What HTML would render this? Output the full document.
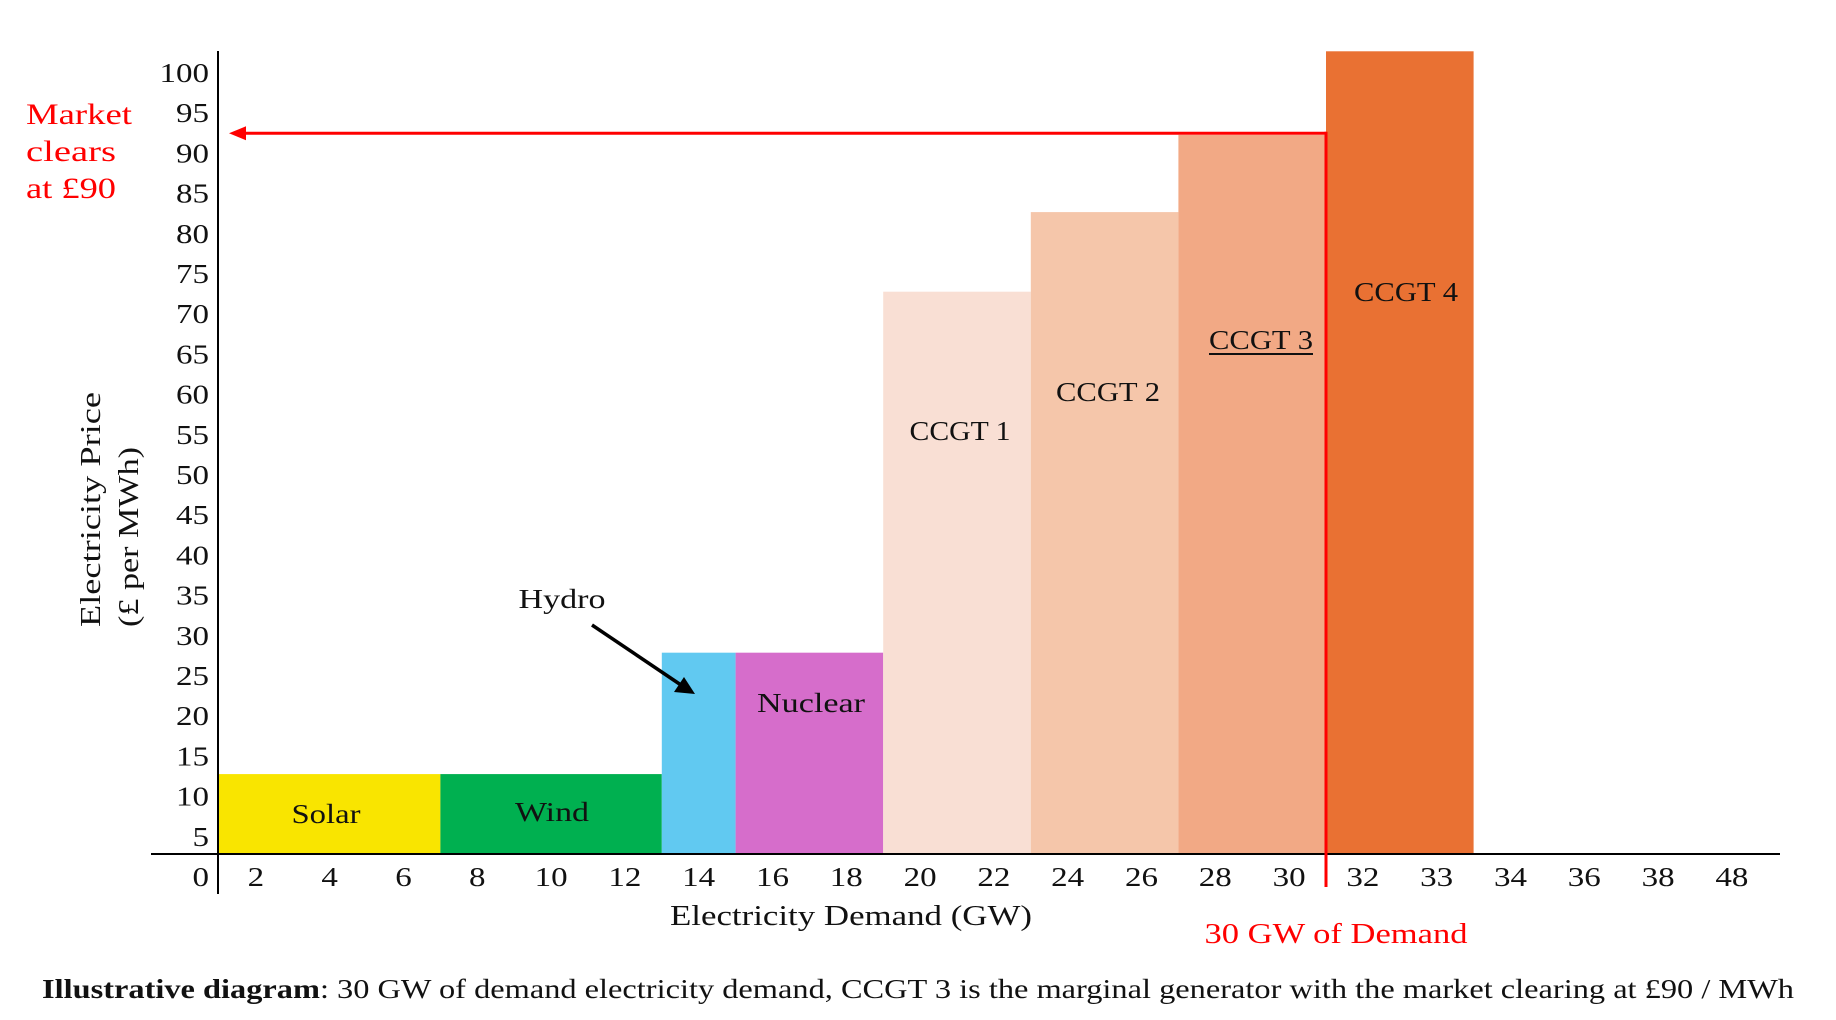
<!DOCTYPE html>
<html><head><meta charset="utf-8"><style>
html,body{margin:0;padding:0;background:#fff;}
svg{display:block;font-family:"Liberation Serif",serif;}
</style></head><body>
<svg id="chart" width="1836" height="1020" viewBox="0 0 1836 1020" xmlns="http://www.w3.org/2000/svg">
<g id="bars"></g>
<g id="axes"></g>
<g id="labels"></g>
</svg>
<script>
// data
const barNames = ["Solar","Wind","Hydro","Nuclear","CCGT 1","CCGT 2","CCGT 3","CCGT 4"];
const barStart = [1,7,13,15,19,23,27,31];
const barEnd   = [7,13,15,19,23,27,31,35];
const barPrice = [12.8,12.8,27.9,27.9,72.8,82.7,92.3,102.7];
const barColors = ["#f9e500","#00b050","#61c9f1","#d66dcb","#f9dfd4","#f5c6aa","#f2a985","#e97133"];
const yTicks = [0,5,10,15,20,25,30,35,40,45,50,55,60,65,70,75,80,85,90,95,100];
const xTickLabels = ["2","4","6","8","10","12","14","16","18","20","22","24","26","28","30","32","33","34","36","38","48"];
const xTickPos = [2,4,6,8,10,12,14,16,18,20,22,24,26,28,30,32,34,36,38,40,42];
const clearingPrice = 92.5;
const demandPos = 31;

const NS="http://www.w3.org/2000/svg";
const xS = p => 182.1 + 36.9*p;
const yS = v => 877 - 8.04*v;
const AXY = 854, AXX = 218;
function mk(tag, attrs, parent, text){
  const e=document.createElementNS(NS,tag);
  for(const k in attrs) e.setAttribute(k,attrs[k]);
  if(text!==undefined) e.textContent=text;
  parent.appendChild(e); return e;
}
const gb=document.getElementById('bars'), ga=document.getElementById('axes'), gl=document.getElementById('labels');

barNames.forEach((n,i)=>{
  const r=mk('rect',{x:xS(barStart[i]),y:yS(barPrice[i]),width:xS(barEnd[i])-xS(barStart[i]),height:AXY-yS(barPrice[i]),fill:barColors[i]},gb);
  
  
});

// bar labels: [cx, baseline, width]
const labelPos = {"Solar":[326,823,69],"Wind":[552,821,74],"Nuclear":[811,712,108],"CCGT 1":[960,440,101],"CCGT 2":[1108,401,104],"CCGT 3":[1261,349,104],"CCGT 4":[1406,301,104]};
for(const n in labelPos){
  const t=mk('text',{x:labelPos[n][0],y:labelPos[n][1],'text-anchor':'middle','font-size':27,fill:'#111',textLength:labelPos[n][2],lengthAdjust:'spacingAndGlyphs'},gl,n);
  
  
  if(n==="CCGT 3") mk('line',{x1:1209,x2:1313,y1:354,y2:354,stroke:'#111','stroke-width':2},gl);
}
const hl=mk('text',{x:562,y:608,'text-anchor':'middle','font-size':27,fill:'#111',textLength:87,lengthAdjust:'spacingAndGlyphs'},gl,'Hydro');


mk('line',{x1:592,y1:625,x2:681,y2:685,stroke:'#000','stroke-width':3.5},gl);
mk('polygon',{points:"695,694 674,692 684,677",fill:'#000'},gl);

// axes
mk('line',{x1:AXX,y1:51,x2:AXX,y2:894,stroke:'#000','stroke-width':2},ga);
mk('line',{x1:151,y1:AXY,x2:1780,y2:AXY,stroke:'#000','stroke-width':2},ga);
yTicks.forEach(v=>{
  const s=String(v);
  const t=mk('text',{x:209,y:yS(v)+9,'text-anchor':'end','font-size':27,fill:'#111',textLength:16.5*s.length,lengthAdjust:'spacingAndGlyphs'},ga,s);
  
  
});
xTickLabels.forEach((l,i)=>{
  const t=mk('text',{x:xS(xTickPos[i]),y:886,'text-anchor':'middle','font-size':27,fill:'#111',textLength:16.5*l.length,lengthAdjust:'spacingAndGlyphs'},ga,l);
  
  
});

// clearing lines
const cy=yS(clearingPrice);
mk('line',{x1:xS(demandPos),y1:cy,x2:242,y2:cy,stroke:'#f00','stroke-width':3},ga);
mk('polygon',{points:`229,${cy} 246,${cy-7} 246,${cy+7}`,fill:'#f00'},ga);
mk('line',{x1:xS(demandPos),y1:cy-1.5,x2:xS(demandPos),y2:887,stroke:'#f00','stroke-width':3},ga);

// titles
const yt=mk('text',{transform:'translate(100,627) rotate(-90)','text-anchor':'start','font-size':28,fill:'#111',textLength:235,lengthAdjust:'spacingAndGlyphs'},gl,'Electricity Price');


const yt2=mk('text',{transform:'translate(138,627) rotate(-90)','text-anchor':'start','font-size':28,fill:'#111',textLength:180,lengthAdjust:'spacingAndGlyphs'},gl,'(£ per MWh)');


const xt=mk('text',{x:851,y:925,'text-anchor':'middle','font-size':28,fill:'#111',textLength:362,lengthAdjust:'spacingAndGlyphs'},gl,'Electricity Demand (GW)');


const dt=mk('text',{x:1336,y:943,'text-anchor':'middle','font-size':29,fill:'#f00',textLength:263,lengthAdjust:'spacingAndGlyphs'},gl,'30 GW of Demand');


[['Market',106],['clears',90],['at £90',90]].forEach((s,i)=>{
  const t=mk('text',{x:26,y:124+i*37,'font-size':30,fill:'#f00',textLength:s[1],lengthAdjust:'spacingAndGlyphs'},gl,s[0]);
  
  
});
const cap=mk('text',{x:42,y:998,'font-size':27,fill:'#111',textLength:1752,lengthAdjust:'spacingAndGlyphs'},gl);


mk('tspan',{'font-weight':'bold'},cap,'Illustrative diagram');
mk('tspan',{},cap,': 30 GW of demand electricity demand, CCGT 3 is the marginal generator with the market clearing at £90 / MWh');
</script>
</body></html>
